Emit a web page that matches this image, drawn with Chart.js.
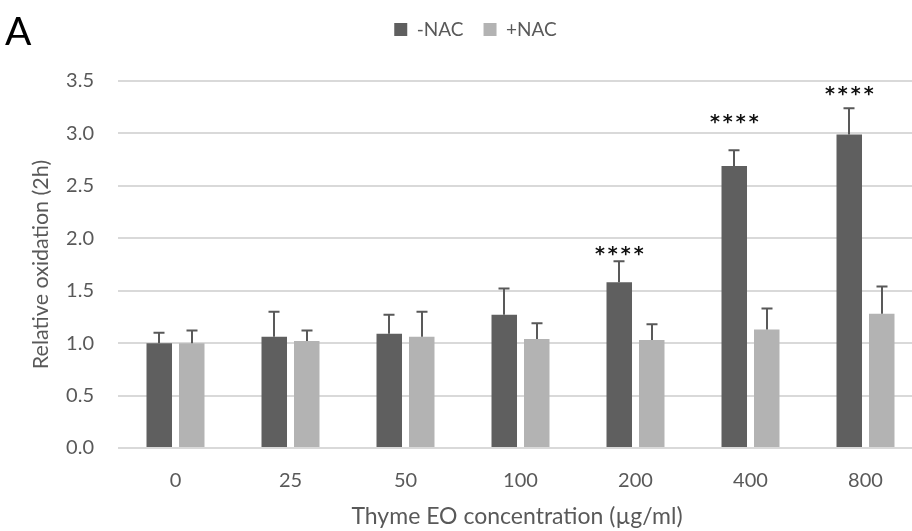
<!DOCTYPE html>
<html>
<head>
<meta charset="utf-8">
<title>Relative oxidation – Thyme EO</title>
<script src="https://cdn.jsdelivr.net/npm/chart.js@4.4.1/dist/chart.umd.min.js"></script>
<style>
  html, body { margin: 0; padding: 0; background: #ffffff; overflow: hidden; }
  #wrap { width: 930px; height: 531px; }
</style>
</head>
<body>
<div id="wrap"><canvas id="chart" width="930" height="531"></canvas></div>
<script>
// Thyme essential oil concentrations (µg/ml)
const concentrations = ['0', '25', '50', '100', '200', '400', '800'];

// Relative oxidation after 2 h, mean and SD, without N-acetylcysteine
const minusNAC = [1.00, 1.06, 1.09, 1.27, 1.58, 2.69, 2.99];
const minusNACsd = [0.10, 0.24, 0.18, 0.25, 0.20, 0.15, 0.25];

// Relative oxidation after 2 h, mean and SD, with N-acetylcysteine
const plusNAC = [1.00, 1.02, 1.06, 1.04, 1.03, 1.13, 1.28];
const plusNACsd = [0.12, 0.10, 0.24, 0.15, 0.15, 0.20, 0.26];

// Significance marks for the -NAC series
const significance = ['', '', '', '', '****', '****', '****'];

// Y axis ticks
const yTicks = [0, 0.5, 1.0, 1.5, 2.0, 2.5, 3.0, 3.5];

const FONT = 'Lato, "Liberation Sans", sans-serif';
const TEXT_GREY = '#595959';
const CHART_LEFT = 118;
const CHART_TOP = 81;
const CHART_BOTTOM = 448;
const PAD_LEFT = 28;

// Upward error bars with caps
const errorBars = {
  id: 'errorBars',
  afterDatasetsDraw(chart) {
    const { ctx, scales: { y } } = chart;
    ctx.save();
    ctx.strokeStyle = '#595959';
    ctx.lineWidth = 2;
    chart.data.datasets.forEach((ds, di) => {
      const meta = chart.getDatasetMeta(di);
      meta.data.forEach((bar, i) => {
        const top = y.getPixelForValue(ds.data[i] + ds.sd[i]);
        const x = Math.round(bar.x);
        ctx.beginPath();
        ctx.moveTo(x, bar.y);
        ctx.lineTo(x, top);
        ctx.moveTo(x - 5.5, top);
        ctx.lineTo(x + 5.5, top);
        ctx.stroke();
      });
    });
    ctx.restore();
  }
};

// Asterisks above the -NAC bars
const sigMarks = {
  id: 'sigMarks',
  afterDatasetsDraw(chart, args, opts) {
    const { ctx, scales: { y } } = chart;
    const meta = chart.getDatasetMeta(0);
    ctx.save();
    ctx.fillStyle = '#111111';
    ctx.font = 'bold 19px "DejaVu Sans", sans-serif';
    ctx.textAlign = 'center';
    ctx.textBaseline = 'middle';
    if ('letterSpacing' in ctx) ctx.letterSpacing = '3px';
    significance.forEach((s, i) => {
      if (!s) return;
      const bar = meta.data[i];
      ctx.fillText(s, bar.x + 1.5, y.getPixelForValue(opts.at[i]) + 4);
    });
    ctx.restore();
  }
};

// Panel letter and x axis title
const extraText = {
  id: 'extraText',
  afterDraw(chart) {
    const { ctx } = chart;
    ctx.save();
    ctx.fillStyle = '#000000';
    ctx.font = '39px ' + FONT;
    ctx.textAlign = 'left';
    ctx.textBaseline = 'alphabetic';
    ctx.fillText('A', 5, 45);
    ctx.fillStyle = TEXT_GREY;
    ctx.font = '23px ' + FONT;
    ctx.textAlign = 'center';
    ctx.fillText('Thyme EO concentration (µg/ml)', 517, 524);
    ctx.restore();
  }
};

const chart = new Chart(document.getElementById('chart'), {
  type: 'bar',
  data: {
    labels: concentrations,
    datasets: [
      { label: '-NAC', data: minusNAC, sd: minusNACsd, backgroundColor: '#5f5f5f', borderWidth: 0 },
      { label: '+NAC', data: plusNAC, sd: plusNACsd, backgroundColor: '#b3b3b3', borderWidth: 0 }
    ]
  },
  options: {
    responsive: false,
    animation: false,
    devicePixelRatio: 1,
    categoryPercentage: 0.565,
    barPercentage: 0.785,
    layout: { padding: { left: PAD_LEFT, right: 7, top: 0, bottom: 0 } },
    plugins: {
      legend: {
        position: 'top',
        labels: {
          color: TEXT_GREY,
          font: { family: FONT, size: 19 },
          boxWidth: 13,
          boxHeight: 13,
          padding: 20
        }
      },
      tooltip: { enabled: false },
      sigMarks: { at: [null, null, null, null, 1.88, 3.14, 3.40] }
    },
    scales: {
      x: {
        grid: { display: false },
        border: { display: false },
        ticks: { color: TEXT_GREY, font: { family: FONT, size: 20 }, padding: 13 },
        afterFit(scale) { scale.height = 531 - CHART_BOTTOM; }
      },
      y: {
        min: 0,
        max: 3.5,
        afterBuildTicks(scale) { scale.ticks = yTicks.map(v => ({ value: v })); },
        grid: { color: '#d9d9d9', lineWidth: 2, drawTicks: false },
        border: { display: false },
        ticks: {
          color: TEXT_GREY,
          font: { family: FONT, size: 20 },
          padding: 24,
          callback: v => Number(v).toFixed(1)
        },
        title: {
          display: true,
          text: 'Relative oxidation (2h)',
          color: TEXT_GREY,
          font: { family: FONT, size: 21.5 },
          padding: 0
        },
        afterFit(scale) { scale.width = CHART_LEFT - PAD_LEFT; }
      }
    }
  },
  plugins: [errorBars, sigMarks, extraText]
});

// Leave room between the legend and the plot area
const legendFit = chart.legend.fit;
chart.legend.fit = function () {
  legendFit.call(this);
  this.height = CHART_TOP;
};
chart.update();
</script>
</body>
</html>
